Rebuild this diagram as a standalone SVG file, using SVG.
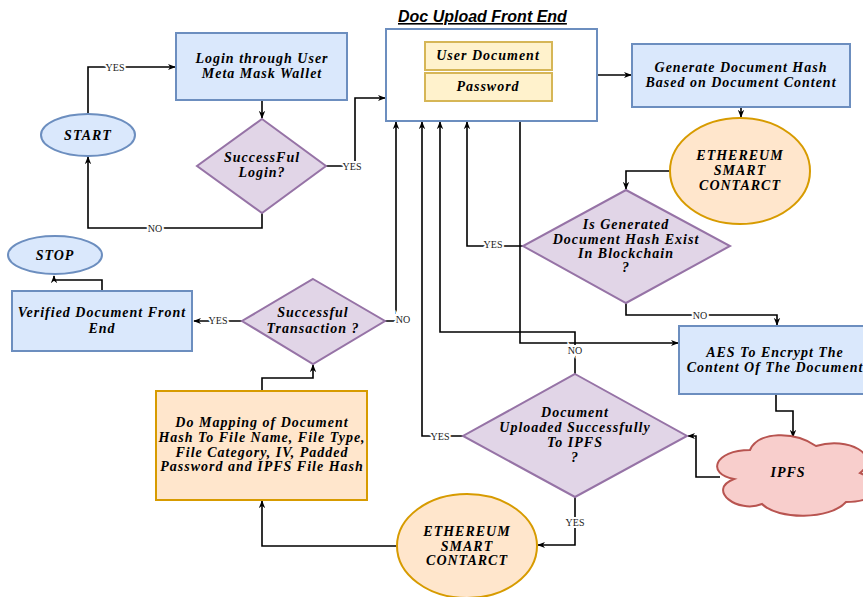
<svg xmlns="http://www.w3.org/2000/svg" width="863" height="597" viewBox="0 0 863 597">
<defs>
<marker id="ah" viewBox="0 0 10 10" refX="9" refY="5" markerWidth="8" markerHeight="8" markerUnits="userSpaceOnUse" orient="auto">
<path d="M0,1 L10,5 L0,9 L3,5 Z" fill="#000"/>
</marker>
<style>
.blue{fill:#dae8fc;stroke:#6c8ebf;stroke-width:2}
.purp{fill:#e1d5e7;stroke:#9673a6;stroke-width:2}
.org{fill:#ffe6cc;stroke:#d79b00;stroke-width:2}
.yel{fill:#fff2cc;stroke:#d6b656;stroke-width:2}
.cloud{fill:#f8cecc;stroke:#b85450;stroke-width:2}
.t{font-family:"Liberation Serif","Times New Roman",serif;font-weight:bold;font-style:italic;font-size:14px;text-anchor:middle;letter-spacing:1px;fill:#000}
.c{fill:none;stroke:#000;stroke-width:1.6}
.ca{fill:none;stroke:#000;stroke-width:1.6;marker-end:url(#ah)}
.lb{font-family:"Liberation Serif","Times New Roman",serif;font-size:10px;text-anchor:middle;fill:#222;stroke:#fff;stroke-width:4;paint-order:stroke}
.title{font-family:"Liberation Sans",Arial,sans-serif;font-weight:bold;font-style:italic;font-size:16px;text-decoration:underline;fill:#000}
</style>
</defs>
<rect width="863" height="597" fill="#fff"/>

<g id="connectors">
<path class="ca" d="M88,114 V67 H175"/>
<path class="ca" d="M262,101 V118"/>
<path class="ca" d="M326,166 H355 V98 H385"/>
<path class="ca" d="M262,213 V228 H88 V157"/>
<path class="ca" d="M597,75 H631"/>
<path class="ca" d="M741,107 V117"/>
<path class="ca" d="M670,171 H626 V189"/>
<path class="ca" d="M523,246 H467 V122"/>
<path class="ca" d="M626,303 V315 H777 V325"/>
<path class="ca" d="M520,101 V343 H678"/>
<path class="ca" d="M776,394 V411 H793 V437"/>
<path class="ca" d="M720,477 H696 V436 H688"/>
<path class="ca" d="M575,374 V332 H440 V122"/>
<path class="ca" d="M463,436 H422 V122"/>
<path class="ca" d="M575,497 V545 H538"/>
<path class="ca" d="M397,546 H262 V501"/>
<path class="ca" d="M262,391 V378 H313 V365"/>
<path class="ca" d="M385,321 H396 V122"/>
<path class="ca" d="M242,321 H194"/>
<path class="ca" d="M102,291 V280 H54 V276"/>
<text class="lb" x="115" y="71">YES</text>
<text class="lb" x="352" y="170">YES</text>
<text class="lb" x="155" y="232">NO</text>
<text class="lb" x="493" y="248">YES</text>
<text class="lb" x="700" y="319">NO</text>
<text class="lb" x="403" y="323">NO</text>
<text class="lb" x="218" y="324">YES</text>
<text class="lb" x="575" y="354">NO</text>
<text class="lb" x="440" y="440">YES</text>
<text class="lb" x="575" y="526">YES</text>
</g>

<g id="start">
<ellipse class="blue" cx="88" cy="135" rx="47" ry="21"/>
<text class="t" x="88" y="140">START</text>
</g>
<g id="stop">
<ellipse class="blue" cx="55" cy="255" rx="47" ry="19"/>
<text class="t" x="55" y="260">STOP</text>
</g>
<g id="login">
<rect class="blue" x="176" y="33" width="171" height="67"/>
<text class="t" x="262" y="63">Login through User</text>
<text class="t" x="262" y="78">Meta Mask Wallet</text>
</g>
<g id="login-check">
<polygon class="purp" points="262,119 326,166 262,213 197,166"/>
<text class="t" x="262" y="162">SuccessFul</text>
<text class="t" x="262" y="177">Login?</text>
</g>
<g id="doc-upload">
<text class="title" x="398" y="22">Doc Upload Front End</text>
<rect x="386" y="29" width="211" height="92" fill="#fff" stroke="#6c8ebf" stroke-width="2"/>
<rect class="yel" x="425" y="42" width="127" height="28"/>
<text class="t" x="488" y="60">User Document</text>
<rect class="yel" x="425" y="73" width="127" height="28"/>
<text class="t" x="488" y="91">Password</text>
</g>
<g id="generate-hash">
<rect class="blue" x="632" y="44" width="218" height="63"/>
<text class="t" x="741" y="72">Generate Document Hash</text>
<text class="t" x="741" y="87">Based on Document Content</text>
</g>
<g id="ethereum-1">
<ellipse class="org" cx="740" cy="171" rx="70" ry="53"/>
<text class="t" x="740" y="160">ETHEREUM</text>
<text class="t" x="740" y="175">SMART</text>
<text class="t" x="740" y="190">CONTARCT</text>
</g>
<g id="hash-exists">
<polygon class="purp" points="626,190 730,246 626,303 523,246"/>
<text class="t" x="626" y="229">Is Generated</text>
<text class="t" x="626" y="244">Document Hash Exist</text>
<text class="t" x="626" y="258">In Blockchain</text>
<text class="t" x="626" y="272">?</text>
</g>
<g id="aes">
<rect class="blue" x="679" y="326" width="192" height="68"/>
<text class="t" x="775" y="357">AES To Encrypt The</text>
<text class="t" x="775" y="372">Content Of The Document</text>
</g>
<g id="ipfs">
<path class="cloud" d="M750,450 C714,450 706,474 734,479 C706,490 738,514 762,504 C778,520 830,520 846,502 C882,502 882,482 860,473 C882,455 848,436 816,446 C795,431 758,431 750,450 Z"/>
<text class="t" x="788" y="477">IPFS</text>
</g>
<g id="upload-check">
<polygon class="purp" points="575,374 687,436 575,497 463,436"/>
<text class="t" x="575" y="417">Document</text>
<text class="t" x="575" y="432">Uploaded Successfully</text>
<text class="t" x="575" y="447">To IPFS</text>
<text class="t" x="575" y="462">?</text>
</g>
<g id="ethereum-2">
<ellipse class="org" cx="467" cy="546" rx="70" ry="52"/>
<text class="t" x="467" y="536">ETHEREUM</text>
<text class="t" x="467" y="551">SMART</text>
<text class="t" x="467" y="565">CONTARCT</text>
</g>
<g id="mapping">
<rect class="org" x="156" y="391" width="211" height="109"/>
<text class="t" x="262" y="427">Do Mapping of Document</text>
<text class="t" x="262" y="442">Hash To File Name, File Type,</text>
<text class="t" x="262" y="457">File Category, IV, Padded</text>
<text class="t" x="262" y="471">Password and IPFS File Hash</text>
</g>
<g id="tx-check">
<polygon class="purp" points="313,279 385,321 313,364 242,321"/>
<text class="t" x="313" y="317">Successful</text>
<text class="t" x="313" y="333">Transaction ?</text>
</g>
<g id="verified">
<rect class="blue" x="12" y="291" width="180" height="60"/>
<text class="t" x="102" y="317">Verified Document Front</text>
<text class="t" x="102" y="333">End</text>
</g>
</svg>
